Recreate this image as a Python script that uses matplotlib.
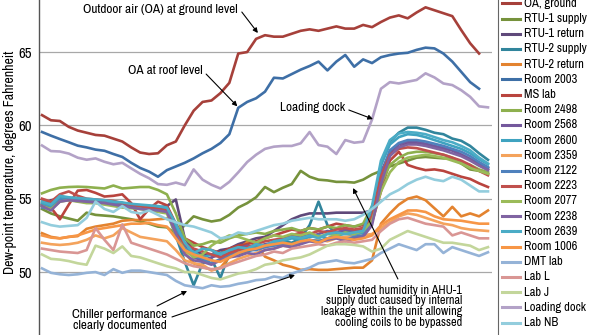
import numpy as np
import matplotlib
matplotlib.use("Agg")
import matplotlib.pyplot as plt
from matplotlib import font_manager as fm
from matplotlib.lines import Line2D

nan = np.nan

# dew-point readings, degrees F, one value per sample (51 samples)
oa_ground = [60.7, 60.35, 60.3, 59.9, 59.65, 59.5, 59.35, 59.3, 59.1, 58.9,
             58.5, 58.15, 58.05, 58.1, 58.65, 58.9, 60.0, 61.0, 61.6, 61.7,
             62.2, 62.9, 64.9, 65.0, 65.9, 66.15, 66.05, 66.05, 66.25, 66.45,
             66.55, 66.45, 66.6, 66.75, 66.6, 66.6, 66.85, 66.7, 67.05, 67.35,
             67.5, 67.3, 67.7, 68.05, 67.85, 67.65, 67.45, 66.5, 65.6, 64.9,
             nan]
rtu1_supply = [54.3, 54.0, 53.8, 53.65, 53.5, 54.05, 53.9, 53.85, 53.8, 53.7,
               53.6, 53.45, 53.3, 53.1, 53.05, 52.6, 53.2, 53.8, 53.6, 53.45,
               53.55, 53.9, 54.4, 54.7, 55.1, 55.8, 55.45, 55.75, 56.0, 56.9,
               56.5, 56.3, 56.25, 56.15, 56.15, 56.1, 56.3, 56.65, 56.9, 57.2,
               57.4, 57.6, 57.8, 57.85, 57.8, 57.75, 57.75, 57.4, 57.0, 56.9,
               56.7]
rtu1_return = [54.6, 54.9, 55.0, 54.9, 54.85, 54.8, 54.75, 54.7, 54.6, 54.55,
               54.5, 54.45, 54.4, 54.4, 54.5, 54.95, 52.3, 51.5, 51.2, 51.2,
               51.5, 51.6, 51.9, 52.1, 52.3, 52.4, 52.8, 53.2, 53.6, 53.85,
               54.0, 54.0, 54.0, 54.05, 54.05, 54.05, 54.05, 54.2, 56.3, 58.0,
               58.5, 58.8, 58.8, 58.7, 58.55, 58.45, 58.3, 58.0, 57.7, 57.4,
               57.1]
rtu2_supply = [54.5, 54.7, 55.2, 55.0, 54.95, 54.9, 54.8, 54.7, 54.75, 54.6,
               54.5, 54.45, 54.4, 54.35, 54.2, 52.5, 50.7, 49.1, 50.6, 50.9,
               49.6, 51.3, 51.1, 51.4, 51.6, 51.8, 51.9, 52.1, 52.0, 52.3,
               53.2, 54.8, 53.2, 52.6, 52.8, 52.7, 52.9, 53.6, 57.3, 58.9,
               59.5, 59.85, 59.85, 59.7, 59.5, 59.4, 59.1, 58.95, 58.6, 58.1,
               57.65]
rtu2_return = [52.65, 52.4, 52.3, 52.4, 52.45, 52.95, 53.1, 53.2, 53.3, 53.5,
               53.55, 53.55, 53.55, 53.6, 53.65, 53.4, 51.3, 50.6, 50.35, 50.15,
               50.3, 51.0, 51.5, 52.05, 51.95, 51.05, 50.8, 50.5, 50.35, 50.15,
               50.2, 50.15, 50.15, 50.2, 50.25, 50.3, 50.3, 50.8, 53.3, 54.0,
               54.6, 55.0, 55.15, 54.9, 54.35, 53.8, 54.45, 53.8, 54.0, 53.8,
               54.2]
room_2003 = [59.55, 59.3, 59.07, 58.85, 58.62, 58.5, 58.35, 58.27, 58.05, 57.85,
             57.45, 57.1, 56.85, 56.5, 56.95, 57.2, 57.45, 57.75, 58.1, 58.4,
             58.8, 59.4, 61.2, 61.6, 61.85, 62.3, 63.25, 63.2, 63.5, 63.8,
             64.05, 64.35, 63.75, 64.35, 64.8, 64.0, 64.5, 64.25, 64.65, 64.8,
             64.9, 64.95, 65.15, 65.3, 65.25, 64.9, 64.35, 63.65, 62.95, 62.5,
             nan]
ms_lab = [54.95, 54.4, 53.6, 54.6, 55.55, 55.6, 55.4, 55.15, 55.2, 55.3,
          54.7, 53.6, 54.3, 54.8, 54.55, 53.3, 52.3, 52.0, 51.7, 51.5,
          51.3, 51.6, 51.8, 51.9, 52.1, 52.3, 52.5, 52.7, 52.9, 52.8,
          53.0, 52.9, 53.1, 53.3, 53.2, 53.1, 53.2, 53.4, 55.5, 57.6,
          58.2, 57.3, 57.1, 56.95, 57.0, 56.9, 56.7, 56.5, 56.35, 56.05,
          55.8]
room_2498 = [55.37, 55.6, 55.75, 55.8, 55.82, 55.8, 55.75, 55.7, 55.9, 55.7,
             55.75, 55.8, 55.8, 55.6, 55.3, 54.0, 52.3, 51.8, 51.9, 52.1,
             52.0, 52.3, 52.5, 52.6, 52.7, 52.6, 52.8, 52.9, 53.0, 52.8,
             53.0, 52.9, 53.1, 53.0, 53.2, 53.1, 53.3, 54.5, 56.0, 57.3,
             57.8, 58.1, 58.2, 58.2, 58.1, 58.0, 57.8, 57.5, 57.3, 57.0,
             56.8]
room_2568 = [54.6, 54.4, 55.0, 55.05, 55.0, 54.9, 54.85, 54.8, 54.75, 54.65,
             54.55, 54.5, 54.45, 54.35, 54.3, 53.0, 51.8, 51.0, 50.8, 51.0,
             51.2, 51.3, 51.6, 51.8, 51.7, 51.9, 52.0, 52.2, 52.4, 52.5,
             52.4, 52.6, 52.8, 52.7, 52.9, 52.8, 53.0, 54.0, 56.8, 58.2,
             58.7, 58.9, 58.9, 58.75, 58.6, 58.45, 58.3, 58.0, 57.7, 57.35,
             57.0]
room_2600 = [54.7, 54.5, 55.1, 55.0, 55.0, 54.95, 54.9, 54.85, 54.8, 54.7,
             54.6, 54.55, 54.5, 54.45, 54.3, 53.0, 51.6, 51.4, 51.0, 51.2,
             51.3, 51.4, 51.5, 51.6, 51.8, 51.7, 52.0, 52.1, 52.3, 52.2,
             52.4, 52.5, 52.3, 52.5, 52.6, 52.5, 52.7, 54.0, 57.3, 58.7,
             59.2, 59.4, 59.35, 59.2, 59.0, 58.8, 58.6, 58.4, 58.1, 57.7,
             57.35]
room_2359 = [52.0, 51.9, 51.85, 51.9, 52.0, 52.2, 52.5, 52.3, 52.5, 53.0,
             52.7, 52.4, 52.3, 52.2, 52.1, 51.5, 50.8, 50.6, 50.5, 50.1,
             50.3, 50.6, 50.9, 51.1, 51.3, 51.5, 51.6, 51.8, 51.7, 52.0,
             52.1, 52.2, 52.1, 52.3, 52.4, 52.4, 52.5, 52.6, 53.0, 53.4,
             53.8, 54.0, 53.9, 53.7, 53.5, 53.3, 53.2, 53.0, 52.9, 52.85,
             52.8]
room_2122 = [54.4, 54.3, 54.9, 54.95, 54.9, 54.85, 54.8, 54.8, 54.75, 54.7,
             54.6, 54.5, 54.4, 54.3, 54.2, 52.8, 51.6, 51.1, 50.9, 50.6,
             50.9, 51.2, 51.3, 51.5, 51.5, 51.7, 51.8, 51.9, 51.8, 52.0,
             52.2, 52.1, 52.3, 52.4, 52.2, 52.4, 52.5, 53.5, 56.5, 58.3,
             58.8, 59.0, 59.0, 58.9, 58.75, 58.6, 58.4, 58.2, 57.9, 57.5,
             57.15]
room_2223 = [55.0, 54.8, 55.3, 55.5, 55.2, 55.0, 54.95, 54.9, 54.85, 54.7,
             54.6, 54.5, 54.4, 54.3, 54.2, 52.6, 51.9, 51.6, 51.4, 51.2,
             51.0, 51.3, 51.5, 51.7, 51.9, 52.1, 52.2, 52.3, 52.5, 52.7,
             52.6, 52.8, 52.7, 52.9, 53.0, 52.9, 53.0, 53.8, 56.5, 58.0,
             58.4, 58.5, 58.45, 58.3, 58.15, 58.0, 57.8, 57.6, 57.3, 56.9,
             56.6]
room_2077 = [54.5, 54.3, 54.8, 54.9, 54.8, 54.7, 54.7, 54.6, 54.5, 54.4,
             54.35, 54.3, 54.2, 54.1, 54.0, 52.5, 51.5, 51.0, 51.2, 51.8,
             52.2, 52.5, 52.4, 52.2, 52.0, 52.3, 52.5, 52.4, 52.6, 52.5,
             52.7, 52.4, 52.6, 52.5, 52.7, 52.6, 52.8, 53.5, 55.5, 56.8,
             57.5, 57.8, 57.9, 58.0, 57.9, 57.8, 57.6, 57.4, 57.1, 56.9,
             56.7]
room_2238 = [54.5, 54.2, 54.8, 54.9, 54.85, 54.8, 54.75, 54.7, 54.6, 54.5,
             54.4, 54.3, 54.25, 54.2, 54.1, 52.6, 51.2, 50.8, 50.7, 50.5,
             50.8, 51.0, 51.1, 51.3, 51.2, 51.5, 51.6, 51.8, 51.7, 51.9,
             52.1, 52.0, 52.2, 52.3, 52.1, 52.3, 52.4, 53.2, 56.0, 57.9,
             58.5, 58.7, 58.7, 58.6, 58.45, 58.3, 58.1, 57.9, 57.6, 57.25,
             56.95]
room_2639 = [54.8, 54.6, 55.2, 55.1, 55.05, 55.0, 54.95, 54.9, 54.8, 54.75,
             54.65, 54.6, 54.55, 54.5, 54.4, 53.3, 52.0, 51.3, 51.6, 51.5,
             51.2, 51.5, 51.7, 51.6, 51.9, 51.8, 52.1, 52.2, 52.4, 52.3,
             52.5, 52.3, 52.6, 52.7, 52.6, 52.7, 52.8, 54.5, 57.6, 59.0,
             59.45, 59.55, 59.5, 59.4, 59.2, 59.0, 58.85, 58.6, 58.3, 57.8,
             57.4]
room_1006 = [52.5, 52.35, 52.3, 52.4, 52.5, 52.7, 52.9, 53.0, 53.1, 53.2,
             53.3, 53.3, 53.35, 53.2, 53.1, 52.3, 51.5, 51.2, 51.0, 50.8,
             50.7, 51.0, 51.3, 51.5, 51.6, 51.8, 51.9, 52.0, 51.9, 52.1,
             52.2, 52.0, 52.3, 52.4, 52.3, 52.2, 52.3, 52.5, 53.2, 53.6,
             53.9, 54.2, 54.2, 54.1, 53.8, 53.6, 53.55, 53.5, 53.4, 53.3,
             53.3]
dmt_lab = [50.25, 49.95, 49.85, 49.8, 49.85, 49.95, 50.0, 49.8, 50.2, 49.95,
           50.1, 50.1, 50.0, 49.9, 49.8, 49.4, 49.1, 49.0, 48.9, 49.1,
           49.0, 49.05, 49.2, 49.3, 49.45, 49.5, 49.7, 49.6, 49.9, 50.1,
           50.3, 50.6, 50.7, 50.8, 50.65, 50.6, 50.75, 50.9, 51.3, 51.6,
           51.9, 51.7, 51.5, 51.9, 51.9, 51.3, 51.7, 51.5, 51.3, 51.1,
           51.35]
lab_l = [51.6, 51.5, 51.4, 51.35, 51.3, 51.5, 53.0, 52.2, 51.5, 53.25,
         52.0, 51.8, 51.6, 51.4, 51.2, 50.9, 50.6, 50.4, 50.3, 50.2,
         50.25, 50.5, 50.7, 50.9, 51.1, 51.2, 51.4, 51.3, 51.6, 51.7,
         51.8, 51.9, 51.8, 52.0, 52.1, 52.0, 52.1, 52.2, 52.8, 53.3,
         53.6, 53.7, 53.5, 53.3, 53.2, 53.1, 52.5, 52.7, 52.5, 52.3,
         52.3]
lab_j = [51.2, 50.9, 50.85, 50.75, 50.6, 50.5, 51.8, 51.6, 51.3, 51.75,
         51.1, 51.0, 50.8, 50.6, 50.4, 50.25, 50.0, 50.0, 49.8, 49.6,
         49.5, 49.7, 49.9, 50.0, 50.2, 50.5, 50.6, 50.8, 50.9, 51.0,
         51.2, 51.5, 51.8, 51.9, 51.9, 51.85, 51.75, 51.4, 51.6, 52.2,
         52.5, 52.8, 52.6, 52.4, 52.2, 52.0, 52.0, 51.9, 51.8, 51.5,
         51.7]
loading_dock = [58.63, 58.25, 58.22, 58.08, 57.8, 57.66, 57.75, 57.52, 57.35, 57.45,
                57.07, 56.7, 56.4, 56.0, 55.95, 56.1, 55.93, 57.0, 56.3, 55.95,
                55.7, 56.15, 56.8, 57.5, 58.0, 58.4, 58.55, 58.6, 58.6, 58.78,
                59.55, 58.66, 58.55, 58.05, 59.0, 58.82, 58.89, 60.4, 62.5, 62.95,
                62.86, 62.98, 63.1, 63.55, 63.27, 62.86, 62.75, 62.4, 61.95, 61.3,
                61.23]
lab_nb = [53.4, 53.2, 53.1, 53.15, 53.2, 53.7, 54.8, 54.3, 54.1, 54.5,
          54.1, 54.0, 54.2, 53.9, 53.6, 53.4, 53.2, 53.1, 52.9, 52.7,
          52.3, 52.4, 52.7, 52.6, 52.8, 53.0, 53.2, 53.3, 53.5, 53.6,
          53.7, 53.6, 53.6, 53.6, 53.5, 53.6, 53.9, 54.3, 54.8, 55.3,
          55.6, 56.0, 56.3, 56.5, 56.3, 56.2, 56.5, 56.3, 55.9, 55.5,
          55.5]

series_names = ["OA, ground", "RTU-1 supply", "RTU-1 return", "RTU-2 supply",
                "RTU-2 return", "Room 2003", "MS lab", "Room 2498", "Room 2568",
                "Room 2600", "Room 2359", "Room 2122", "Room 2223", "Room 2077",
                "Room 2238", "Room 2639", "Room 1006", "DMT lab", "Lab L",
                "Lab J", "Loading dock", "Lab NB"]
series_values = [oa_ground, rtu1_supply, rtu1_return, rtu2_supply, rtu2_return,
                 room_2003, ms_lab, room_2498, room_2568, room_2600, room_2359,
                 room_2122, room_2223, room_2077, room_2238, room_2639, room_1006,
                 dmt_lab, lab_l, lab_j, loading_dock, lab_nb]
series_colors = ["#A6403A", "#76923C", "#5F497A", "#31859C", "#E3832F",
                 "#3E6FA6", "#B9443E", "#8EB04E", "#74589C", "#3FA3C0",
                 "#F4A35C", "#4F81BD", "#C0504D", "#9BBB59", "#8064A2",
                 "#4BACC6", "#F79646", "#95B3D7", "#D99694", "#C3D69B",
                 "#B3A2C7", "#93CDDD"]
y_ticks = [50, 55, 60, 65]


def pick_font():
    # the original is set in a condensed grotesque; take the narrowest face we have
    fonts = fm.fontManager.ttflist
    for f in fonts:
        if ("Narrow" in f.name or "Condensed" in f.name) and f.style == "normal" \
                and f.weight in (400, "normal", "regular"):
            return fm.FontProperties(fname=f.fname)
    for f in fonts:
        if f.stretch in ("condensed", "semi-condensed", "extra-condensed") \
                and f.style == "normal" and f.weight in (400, "normal", "regular"):
            return fm.FontProperties(fname=f.fname)
    return fm.FontProperties(family="Liberation Sans")


W, H = 595, 335
fig = plt.figure(figsize=(W / 100, H / 100), dpi=100)
ax = fig.add_axes([39 / W, 0, (492 - 39) / W, 1])
fp = pick_font()
renderer = fig.canvas.get_renderer()


def fit(sample, width_px, cap=10):
    # font size at which `sample` is as wide as it is in the original
    t = fig.text(0, 0, sample, fontproperties=fp, fontsize=9)
    w = t.get_window_extent(renderer=renderer).width
    t.remove()
    p = fp.copy()
    p.set_size(min(cap, 9 * width_px / w))
    return p


note_fp = fit("Outdoor air (OA) at ground level", 156)
ahu_fp = fit("leakage within the unit allowing", 141)
leg_fp = fit("Loading dock", 62)
ylab_fp = fit("Dew-point temperature, degrees Fahrenheit", 222)
tick_fp = fit("65", 14, cap=10.5)

x = np.arange(len(oa_ground))
for vals, col in zip(series_values, series_colors):
    ax.plot(x, vals, color=col, lw=1.9, solid_joinstyle="round")

ax.set_xlim(-0.34, 50.45)
ax.set_ylim(45.71, 68.55)
ax.set_yticks(y_ticks)
ax.set_yticklabels([str(t) for t in y_ticks], fontproperties=tick_fp)
ax.tick_params(axis="y", length=0, pad=5)
ax.set_xticks([])
ax.grid(axis="y", color="#a8a8a8", lw=0.9)
ax.set_axisbelow(True)
for s in ["top", "right", "bottom"]:
    ax.spines[s].set_visible(False)
ax.spines["left"].set_color("#555555")
ax.spines["left"].set_linewidth(1.0)

fig.text(10 / W, 1 - 162 / H, "Dew-point temperature, degrees Fahrenheit",
         rotation=90, ha="center", va="center", fontproperties=ylab_fp)

# callouts
arrow = dict(arrowstyle="-|>", color="black", lw=0.8, mutation_scale=7,
             shrinkA=0, shrinkB=0)
ax.text(21.97, 67.91, "Outdoor air (OA) at ground level", ha="right", va="center",
        fontproperties=note_fp)
ax.annotate("", xy=(24.2, 66.3), xytext=(22.4, 67.73), arrowprops=arrow)
ax.text(18.05, 63.77, "OA at roof level", ha="right", va="center", fontproperties=note_fp)
ax.annotate("", xy=(21.9, 61.3), xytext=(18.4, 63.5), arrowprops=arrow)
ax.text(33.97, 61.25, "Loading dock", ha="right", va="center", fontproperties=note_fp)
ax.annotate("", xy=(37.1, 60.43), xytext=(34.4, 61.05), arrowprops=arrow)
ax.text(8.74, 46.73, "Chiller performance\nclearly documented", ha="center",
        va="center", multialignment="center", fontproperties=note_fp, linespacing=0.95)
ax.annotate("", xy=(16.26, 48.71), xytext=(12.9, 47.69), arrowprops=arrow)
ax.annotate("", xy=(28.36, 49.8), xytext=(14.57, 46.94), arrowprops=arrow)
ax.text(47.09, 47.67, "Elevated humidity in AHU-1\nsupply duct caused by internal\n"
        "leakage within the unit allowing\ncooling coils to be bypassed",
        ha="right", va="center", multialignment="right", fontproperties=ahu_fp,
        linespacing=0.95)
ax.annotate("", xy=(34.87, 55.73), xytext=(39.9, 49.53), arrowprops=arrow)

# legend column on the right, drawn by hand to keep the row pitch
fig.add_artist(Line2D([497.5 / W, 497.5 / W], [0, 1], color="#666666", lw=0.8))
for k, (name, col) in enumerate(zip(series_names, series_colors)):
    yy = 1 - (3.3 + k * 15.2) / H
    fig.add_artist(Line2D([502 / W, 520 / W], [yy, yy], color=col, lw=2.2))
    fig.text(524 / W, yy, name, ha="left", va="center", fontproperties=leg_fp)

fig.savefig("out.png", dpi=100)
